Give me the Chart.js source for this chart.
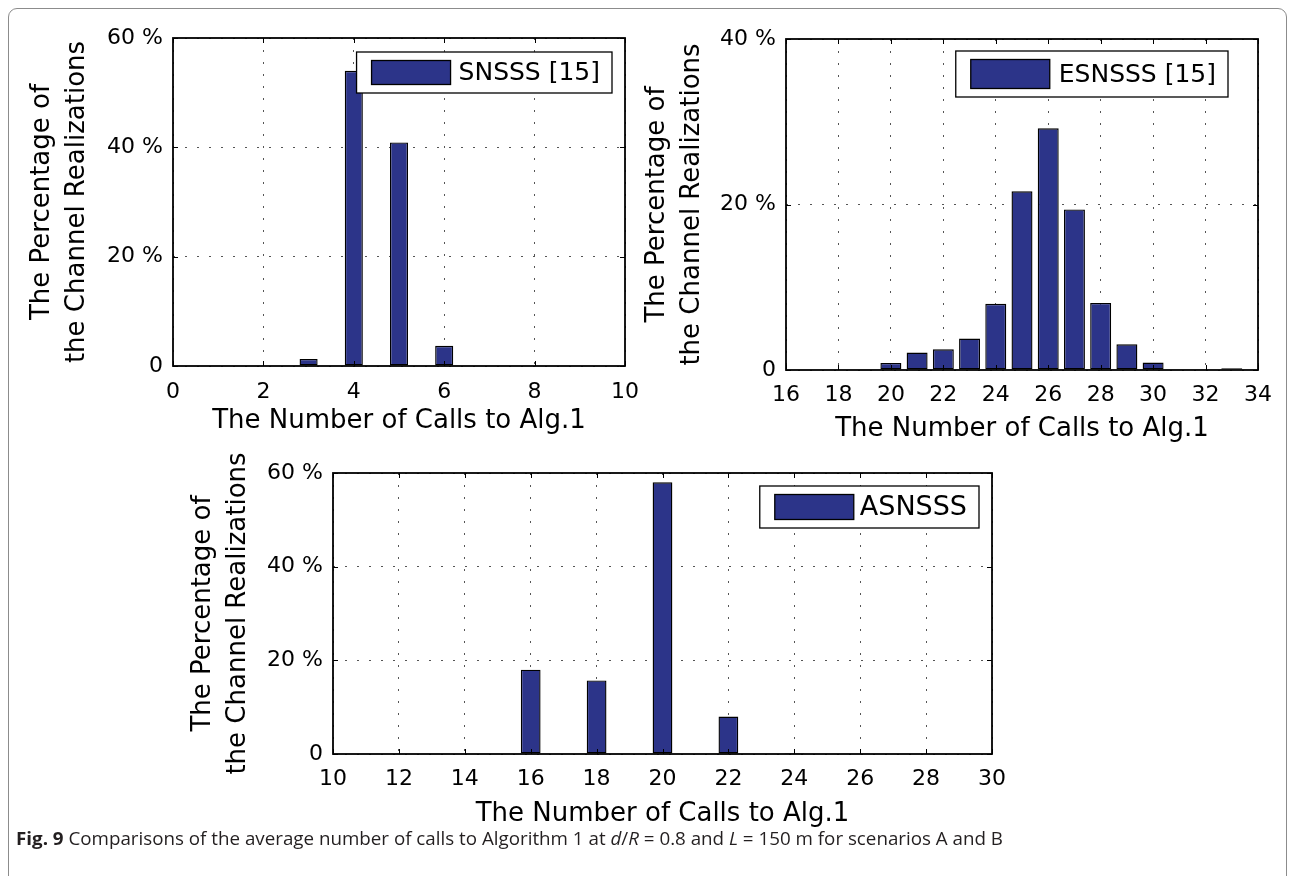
<!DOCTYPE html>
<html>
<head>
<meta charset="utf-8">
<script src="https://cdn.jsdelivr.net/npm/chart.js@4.4.1/dist/chart.umd.min.js"></script>
<style>
  body { margin: 0; background: #fff; width: 1294px; height: 876px; overflow: hidden; position: relative; }
  #frame { position: absolute; left: 8px; top: 8px; width: 1277px; height: 900px; border: 1.5px solid #8c8c8c; border-radius: 9px; }
  canvas { position: absolute; }
  #caption { position: absolute; left: 16px; top: 826px; font-family: "Open Sans"; font-size: 18px; color: #231f20; white-space: nowrap; transform-origin: 0 0; }
</style>
</head>
<body>
<div id="frame"></div>
<canvas id="c1" width="620" height="420" style="left:20px;top:20px"></canvas>
<canvas id="c2" width="640" height="430" style="left:640px;top:20px"></canvas>
<canvas id="c3" width="830" height="394" style="left:180px;top:440px"></canvas>
<div id="caption"><b>Fig. 9</b> Comparisons of the average number of calls to Algorithm 1 at <i>d</i>/<i>R</i> = 0.8 and <i>L</i> = 150 m for scenarios A and B</div>
<script>
// data (percent of channel realizations per number of calls)
const snsssCalls = [3, 4, 5, 6];
const snsssPct = [1.3, 54.0, 40.9, 3.7];

const esnsssCalls = [20, 21, 22, 23, 24, 25, 26, 27, 28, 29, 30, 31, 32, 33];
const esnsssPct = [0.85, 2.1, 2.5, 3.8, 8.0, 21.6, 29.2, 19.4, 8.1, 3.1, 0.9, 0.1, 0.1, 0.2];

const asnsssCalls = [16, 17, 18, 20, 22, 24];
const asnsssPct = [18.0, 0.15, 15.7, 58.0, 8.0, 0.2];

const xTicks1 = [0, 2, 4, 6, 8, 10];
const xTicks2 = [16, 18, 20, 22, 24, 26, 28, 30, 32, 34];
const xTicks3 = [10, 12, 14, 16, 18, 20, 22, 24, 26, 28, 30];
const yTicks60 = [0, 20, 40, 60];
const yLabels60 = ['0', '20 %', '40 %', '60 %'];
const yTicks40 = [0, 20, 40];
const yLabels40 = ['0', '20 %', '40 %'];

const xTitle = 'The Number of Calls to Alg.1';
const yTitle = ['The Percentage of', 'the Channel Realizations'];

const FONT = '"DejaVu Sans"';
const BAR = '#2c3489';

// box, inward ticks on all sides and a legend inside the axes
const matlabAxes = {
  id: 'matlabAxes',
  afterDatasetsDraw(chart, args, opts) {
    const { ctx, chartArea: a, scales: { x, y } } = chart;
    ctx.save();
    ctx.strokeStyle = '#000';
    ctx.lineWidth = 1;
    ctx.beginPath();
    x.ticks.forEach(t => {
      const px = Math.round(x.getPixelForValue(t.value)) + 0.5;
      ctx.moveTo(px, a.bottom); ctx.lineTo(px, a.bottom - 5);
      ctx.moveTo(px, a.top); ctx.lineTo(px, a.top + 5);
    });
    y.ticks.forEach(t => {
      const py = Math.round(y.getPixelForValue(t.value)) + 0.5;
      ctx.moveTo(a.left, py); ctx.lineTo(a.left + 5, py);
      ctx.moveTo(a.right, py); ctx.lineTo(a.right - 5, py);
    });
    ctx.stroke();
    ctx.lineWidth = 1.8;
    ctx.strokeRect(a.left, a.top, a.right - a.left, a.bottom - a.top);

    // legend
    const ds = chart.data.datasets[0];
    ctx.font = opts.size + 'px ' + FONT;
    const tw = ctx.measureText(ds.label).width;
    const w = 15 + 79 + opts.gap + tw + 12;
    const h = opts.height;
    const bx = a.right - opts.right - w;
    const by = a.top + opts.top;
    ctx.fillStyle = '#fff';
    ctx.fillRect(bx, by, w, h);
    ctx.lineWidth = 1.3;
    ctx.strokeRect(bx, by, w, h);
    const sh = h - 17;
    ctx.fillStyle = ds.backgroundColor;
    ctx.fillRect(bx + 15, by + (h - sh) / 2, 79, sh);
    ctx.strokeRect(bx + 15, by + (h - sh) / 2, 79, sh);
    ctx.fillStyle = '#000';
    ctx.textBaseline = 'middle';
    ctx.textAlign = 'left';
    ctx.fillText(ds.label, bx + 15 + 79 + opts.gap, by + h / 2 + 1);
    ctx.restore();
  }
};

function noPad(s) {
  s.paddingLeft = 0; s.paddingRight = 0; s.paddingTop = 0; s.paddingBottom = 0;
}

function makeChart(id, calls, pct, label, cfg) {
  const ctx = document.getElementById(id).getContext('2d');
  return new Chart(ctx, {
    type: 'bar',
    data: {
      datasets: [{
        label: label,
        data: calls.map((c, i) => ({ x: c, y: pct[i] })),
        backgroundColor: BAR,
        borderColor: '#000',
        borderWidth: 1.4,
        borderSkipped: false,
        categoryPercentage: 1,
        barPercentage: cfg.barPct
      }]
    },
    options: {
      responsive: false,
      animation: false,
      devicePixelRatio: 1,
      layout: { padding: cfg.padding },
      plugins: {
        legend: { display: false },
        tooltip: { enabled: false },
        matlabAxes: cfg.legend
      },
      scales: {
        x: {
          type: 'linear',
          min: cfg.xTicks[0],
          max: cfg.xTicks[cfg.xTicks.length - 1],
          offset: false,
          afterBuildTicks: s => { s.ticks = cfg.xTicks.map(v => ({ value: v })); },
          afterFit: s => { s.height = cfg.xHeight; noPad(s); },
          grid: { offset: false, drawTicks: false, color: '#555', lineWidth: 1 },
          border: { display: false, dash: [2, 10] },
          ticks: {
            autoSkip: false, maxRotation: 0, padding: cfg.xTickPad,
            color: '#000', font: { family: FONT, size: 22 }
          },
          title: {
            display: true, text: xTitle, color: '#000',
            font: { family: FONT, size: 26, lineHeight: 1.33 },
            padding: { top: 0, bottom: cfg.xTitlePad }
          }
        },
        y: {
          min: 0,
          max: cfg.yTicks[cfg.yTicks.length - 1],
          afterBuildTicks: s => { s.ticks = cfg.yTicks.map(v => ({ value: v })); },
          afterFit: s => { s.width = cfg.yWidth; noPad(s); },
          grid: { drawTicks: false, color: '#555', lineWidth: 1 },
          border: { display: false, dash: [2, 10] },
          ticks: {
            padding: 10, color: '#000', font: { family: FONT, size: 22 },
            callback: (v, i) => cfg.yLabels[i]
          },
          title: {
            display: true, text: yTitle, color: '#000',
            font: { family: FONT, size: 26, lineHeight: 1.33 },
            padding: { top: cfg.yTitlePad, bottom: 0 }
          }
        }
      }
    },
    plugins: [matlabAxes]
  });
}

makeChart('c1', snsssCalls, snsssPct, 'SNSSS [15]', {
  barPct: 0.4, xTicks: xTicks1, yTicks: yTicks60, yLabels: yLabels60,
  padding: { top: 18, right: 15, left: 0, bottom: 0 },
  yWidth: 153, xHeight: 74, xTickPad: 13, xTitlePad: 1, yTitlePad: 5,
  legend: { right: 13, top: 14, height: 41, size: 25, gap: 8 }
});

makeChart('c2', esnsssCalls, esnsssPct, 'ESNSSS [15]', {
  barPct: 0.8, xTicks: xTicks2, yTicks: yTicks40, yLabels: yLabels40,
  padding: { top: 19, right: 22, left: 0, bottom: 0 },
  yWidth: 146, xHeight: 80, xTickPad: 12, xTitlePad: 3, yTitlePad: 0,
  legend: { right: 30, top: 12, height: 46, size: 25, gap: 9 }
});

makeChart('c3', asnsssCalls, asnsssPct, 'ASNSSS', {
  barPct: 0.6, xTicks: xTicks3, yTicks: yTicks60, yLabels: yLabels60,
  padding: { top: 33, right: 18, left: 0, bottom: 0 },
  yWidth: 153, xHeight: 80, xTickPad: 12, xTitlePad: 2, yTitlePad: 6,
  legend: { right: 13, top: 13, height: 42, size: 27, gap: 6 }
});

// squeeze the caption to the width it has in the figure
const cap = document.getElementById('caption');
const capW = cap.getBoundingClientRect().width;
cap.style.transform = 'scaleX(' + (987 / capW) + ')';
</script>
</body>
</html>
